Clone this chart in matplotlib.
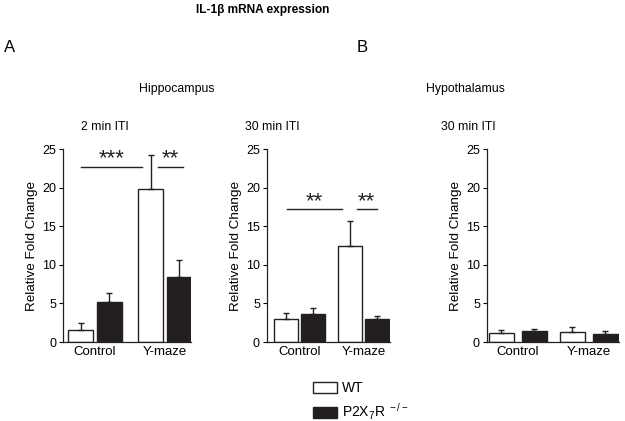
import matplotlib
matplotlib.use('Agg')
import matplotlib.pyplot as plt
from matplotlib.patches import Patch

plt.rcParams['font.family'] = ['Liberation Sans', 'DejaVu Sans']
plt.rcParams['mathtext.default'] = 'regular'

groups = ['Control', 'Y-maze']

# 2 min ITI, hippocampus
hip2_wt = [1.6, 19.8]
hip2_wt_err = [0.9, 4.4]
hip2_ko = [5.2, 8.4]
hip2_ko_err = [1.2, 2.2]

# 30 min ITI, hippocampus
hip30_wt = [3.0, 12.4]
hip30_wt_err = [0.8, 3.3]
hip30_ko = [3.6, 3.0]
hip30_ko_err = [0.8, 0.4]

# 30 min ITI, hypothalamus
hyp30_wt = [1.2, 1.3]
hyp30_wt_err = [0.3, 0.7]
hyp30_ko = [1.4, 1.0]
hyp30_ko_err = [0.3, 0.4]

# significance brackets: (x0, x1, y, label)
hip2_sig = [(-0.2, 0.67, 22.7, '***'), (0.9, 1.26, 22.7, '**')]
hip30_sig = [(-0.2, 0.66, 17.2, '**'), (0.89, 1.2, 17.2, '**')]

fig = plt.figure(figsize=(6.25, 4.21), dpi=100)


def panel(rect, wt, wt_err, ko, ko_err, sig, xlim, off, w):
    ax = fig.add_axes(rect)
    xs = range(len(groups))
    for i in xs:
        ax.bar(i - off, wt[i], w, color='white', edgecolor='#222222', lw=1.0)
        ax.errorbar(i - off, wt[i], yerr=[[0], [wt_err[i]]], fmt='none',
                    ecolor='#222222', elinewidth=1.0, capsize=2)
        ax.bar(i + off, ko[i], w, color='#231f20', edgecolor='#231f20', lw=1.0)
        ax.errorbar(i + off, ko[i], yerr=[[0], [ko_err[i]]], fmt='none',
                    ecolor='#222222', elinewidth=1.0, capsize=2)
    for x0, x1, y, lab in sig:
        ax.plot([x0, x1], [y, y], color='#222222', lw=1.0)
        ax.text((x0 + x1) / 2, y + 0.3, lab, ha='center', va='baseline',
                fontsize=16, color='#222222')
    ax.set_xlim(*xlim)
    ax.set_ylim(0, 25)
    ax.set_yticks([0, 5, 10, 15, 20, 25])
    ax.set_xticks(list(xs))
    ax.set_xticklabels(groups, fontsize=9.5)
    ax.tick_params(axis='x', length=0, pad=3)
    ax.tick_params(axis='y', length=3, width=0.8, labelsize=9, pad=2)
    ax.set_ylabel('Relative Fold Change', fontsize=9.7, labelpad=3)
    for s in ['top', 'right']:
        ax.spines[s].set_visible(False)
    for s in ['left', 'bottom']:
        ax.spines[s].set_linewidth(0.9)
        ax.spines[s].set_color('#222222')
    return ax


panel([0.1008, 0.1876, 0.205, 0.458], hip2_wt, hip2_wt_err, hip2_ko, hip2_ko_err,
      hip2_sig, (-0.454, 1.375), 0.204, 0.357)
panel([0.427, 0.1876, 0.197, 0.458], hip30_wt, hip30_wt_err, hip30_ko, hip30_ko_err,
      hip30_sig, (-0.51, 1.41), 0.21, 0.375)
panel([0.779, 0.1876, 0.211, 0.458], hyp30_wt, hyp30_wt_err, hyp30_ko, hyp30_ko_err,
      [], (-0.437, 1.42), 0.232, 0.35)

H = 421.0
W = 625.0


def head(x, y, s, size, **kw):
    fig.text(x / W, 1 - y / H, s, ha='center', va='center', fontsize=size, **kw)


head(263, 10, 'IL-1β mRNA expression', 8.6, fontweight='bold')
head(10, 48, 'A', 12)
head(362, 48, 'B', 12)
head(177, 89, 'Hippocampus', 8.8)
head(465, 89, 'Hypothalamus', 8.8)
head(105, 127, '2 min ITI', 8.8)
head(272, 127, '30 min ITI', 8.8)
head(468, 127, '30 min ITI', 8.8)

handles = [Patch(facecolor='white', edgecolor='#222222', lw=1.0),
           Patch(facecolor='#231f20', edgecolor='#231f20', lw=1.0)]
fig.legend(handles, ['WT', 'P2X$_7$R$^{\\ -/-}$'], loc='upper left',
           bbox_to_anchor=(313 / W, 1 - 381 / H), frameon=False, fontsize=10,
           handlelength=1.75, handleheight=0.85, handletextpad=0.35,
           labelspacing=0.45, borderaxespad=0, borderpad=0)

fig.savefig('out.png', dpi=100)
